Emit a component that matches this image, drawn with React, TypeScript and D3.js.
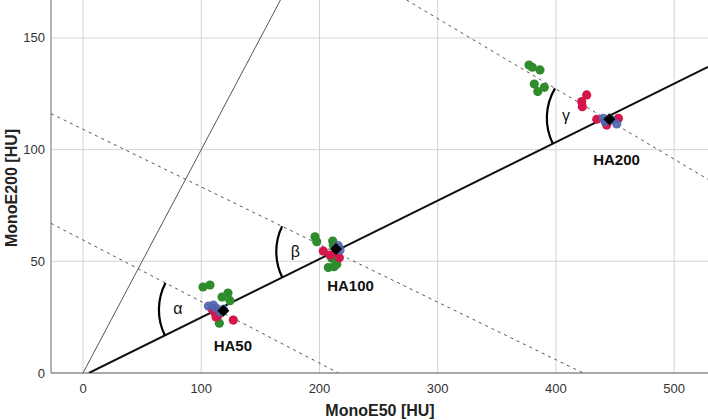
import React from "react";
import * as d3 from "d3";

const xTicks = [0, 100, 200, 300, 400, 500];
const yTicks = [0, 50, 100, 150];

const greenPoints: [number, number][] = [
  [101.5, 38.5], [107.4, 39.4], [117.6, 34.0], [122.6, 35.8], [124.3, 32.4], [115.3, 22.3],
  [196.2, 61.0], [197.7, 58.8], [211.2, 59.1], [211.7, 57.3], [210.4, 51.4], [207.5, 47.2], [212.3, 47.6], [214.6, 48.7],
  [377.2, 137.9], [380.0, 136.9], [386.5, 135.7], [381.7, 129.4], [384.6, 126.0], [390.2, 127.9],
];
const redPoints: [number, number][] = [
  [111.6, 27.0], [114.4, 26.0], [117.3, 27.4], [109.1, 28.7], [127.1, 23.7], [112.5, 25.1],
  [203.2, 54.6], [216.8, 51.6], [214.6, 54.3], [208.9, 52.8],
  [426.0, 124.5], [421.8, 121.5], [422.3, 119.2], [434.5, 113.6], [442.9, 111.0], [452.8, 114.0],
];
const bluePoints: [number, number][] = [
  [106.0, 30.0], [110.2, 30.4], [112.5, 29.1], [118.7, 28.5], [115.9, 27.3],
  [215.9, 57.0], [214.0, 55.8], [217.4, 55.1],
  [440.1, 114.0], [451.4, 111.5], [447.2, 113.3], [441.5, 112.5],
];
const meanPoints: [number, number][] = [
  [118.7, 27.9], [214.0, 55.5], [445.2, 113.6],
];
const groupLabels = ["HA50", "HA100", "HA200"];
const labelPos: [number, number][] = [[110.5, 10.0], [206.5, 36.5], [431.5, 93.0]];

// reference lines [x1, y1, x2, y2] in data units
const regressionLine = [5, 0, 528.6, 137.0];
const identityLine = [0, 0, 167, 167];
const dashedLines = [
  [-27.07, 67.0, 216, 0],
  [-27.07, 116.1, 423, 0],
  [273.6, 167, 528.6, 86.7],
];
const angleLabels = ["α", "β", "γ"];

const W = 708;
const H = 420;
const left = 51;
const right = 708;
const top = 0;
const bottom = 373;

export default function App() {
  const x = d3.scaleLinear().domain([-27.07, 528.6]).range([left, right]);
  const y = d3.scaleLinear().domain([0, 167.0]).range([bottom, top]);
  const font = "Liberation Sans, Arial, Helvetica, sans-serif";

  const toPx = (l: number[]) => [x(l[0]), y(l[1]), x(l[2]), y(l[3])];
  const intersect = (a: number[], b: number[]) => {
    const [x1, y1, x2, y2] = toPx(a);
    const [x3, y3, x4, y4] = toPx(b);
    const den = (x1 - x2) * (y3 - y4) - (y1 - y2) * (x3 - x4);
    const t = ((x1 - x3) * (y3 - y4) - (y1 - y3) * (x3 - x4)) / den;
    return [x1 + t * (x2 - x1), y1 + t * (y2 - y1)];
  };
  const solidPx = toPx(regressionLine);
  const solidAngle = Math.atan2(solidPx[3] - solidPx[1], solidPx[2] - solidPx[0]);

  const dm = 6;
  const diamond = `M0,${-dm}L${dm},0L0,${dm}L${-dm},0Z`;

  return (
    <div style={{ position: "absolute", left: 0, top: 0 }}>
      <svg width={W} height={H} style={{ display: "block", background: "#fff" }}>
        {/* grid */}
        {xTicks.map((t) => (
          <line key={"gx" + t} x1={x(t)} x2={x(t)} y1={top} y2={bottom} stroke="#d4d4d4" strokeWidth={1} />
        ))}
        {yTicks.map((t) => (
          <line key={"gy" + t} x1={left} x2={right} y1={y(t)} y2={y(t)} stroke="#d4d4d4" strokeWidth={1} />
        ))}
        {/* axes */}
        <line x1={left} x2={left} y1={top} y2={bottom} stroke="#6a6a6a" strokeWidth={1} />
        <line x1={left} x2={right} y1={bottom} y2={bottom} stroke="#6a6a6a" strokeWidth={1} />
        {/* tick labels */}
        {xTicks.map((t) => (
          <text key={"tx" + t} x={x(t)} y={393} textAnchor="middle" fontFamily={font} fontSize={13} fill="#333">
            {t}
          </text>
        ))}
        {yTicks.map((t) => (
          <text key={"ty" + t} x={45} y={y(t) + 4.5} textAnchor="end" fontFamily={font} fontSize={13} fill="#333">
            {t}
          </text>
        ))}
        {/* axis titles */}
        <text x={380} y={416} textAnchor="middle" fontFamily={font} fontSize={16} fontWeight="bold" fill="#222">
          MonoE50 [HU]
        </text>
        <text
          transform={`translate(17,188) rotate(-90)`}
          textAnchor="middle"
          fontFamily={font}
          fontSize={16}
          fontWeight="bold"
          fill="#222"
        >
          MonoE200 [HU]
        </text>
        <clipPath id="plotclip">
          <rect x={left} y={top} width={right - left} height={bottom - top} />
        </clipPath>
        <g clipPath="url(#plotclip)">
          {/* identity line */}
          <line
            x1={x(identityLine[0])} y1={y(identityLine[1])}
            x2={x(identityLine[2])} y2={y(identityLine[3])}
            stroke="#555" strokeWidth={1}
          />
          {/* dashed lines */}
          {dashedLines.map((l, i) => (
            <line
              key={"d" + i}
              x1={x(l[0])} y1={y(l[1])} x2={x(l[2])} y2={y(l[3])}
              stroke="#555" strokeWidth={1} strokeDasharray="3,4"
            />
          ))}
          {/* regression line */}
          <line
            x1={solidPx[0]} y1={solidPx[1]} x2={solidPx[2]} y2={solidPx[3]}
            stroke="#111" strokeWidth={2}
          />
          {/* angle arcs */}
          {dashedLines.map((l, i) => {
            const [cx, cy] = intersect(l, regressionLine);
            const p = toPx(l);
            const dAng = Math.atan2(p[1] - p[3], p[0] - p[2]); // toward upper-left
            const sAng = solidAngle - Math.PI; // toward lower-left
            const r = 58;
            const sx = cx + r * Math.cos(dAng);
            const sy = cy + r * Math.sin(dAng);
            const ex = cx + r * Math.cos(sAng);
            const ey = cy + r * Math.sin(sAng);
            const mid = (dAng + sAng) / 2;
            return (
              <g key={"a" + i}>
                <path
                  d={`M${sx},${sy} A${r},${r} 0 0 0 ${ex},${ey}`}
                  fill="none" stroke="#000" strokeWidth={2.2}
                />
                <text
                  x={cx + 39 * Math.cos(mid)}
                  y={cy + 39 * Math.sin(mid) + 5}
                  textAnchor="middle"
                  fontFamily={font}
                  fontSize={16}
                  fill="#111"
                >
                  {angleLabels[i]}
                </text>
              </g>
            );
          })}
          {/* points */}
          {greenPoints.map((p, i) => (
            <circle key={"g" + i} cx={x(p[0])} cy={y(p[1])} r={4.6} fill="#2e8b2e" />
          ))}
          {redPoints.map((p, i) => (
            <circle key={"r" + i} cx={x(p[0])} cy={y(p[1])} r={4.6} fill="#d4164a" />
          ))}
          {bluePoints.map((p, i) => (
            <circle key={"b" + i} cx={x(p[0])} cy={y(p[1])} r={4.6} fill="#4f64ad" fillOpacity={0.9} />
          ))}
          {meanPoints.map((p, i) => (
            <path key={"m" + i} d={diamond} transform={`translate(${x(p[0])},${y(p[1])})`} fill="#000" />
          ))}
        </g>
        {/* group labels */}
        {groupLabels.map((g, i) => (
          <text
            key={"l" + i}
            x={x(labelPos[i][0])}
            y={y(labelPos[i][1])}
            fontFamily={font}
            fontSize={15}
            fontWeight="bold"
            fill="#111"
          >
            {g}
          </text>
        ))}
      </svg>
    </div>
  );
}
